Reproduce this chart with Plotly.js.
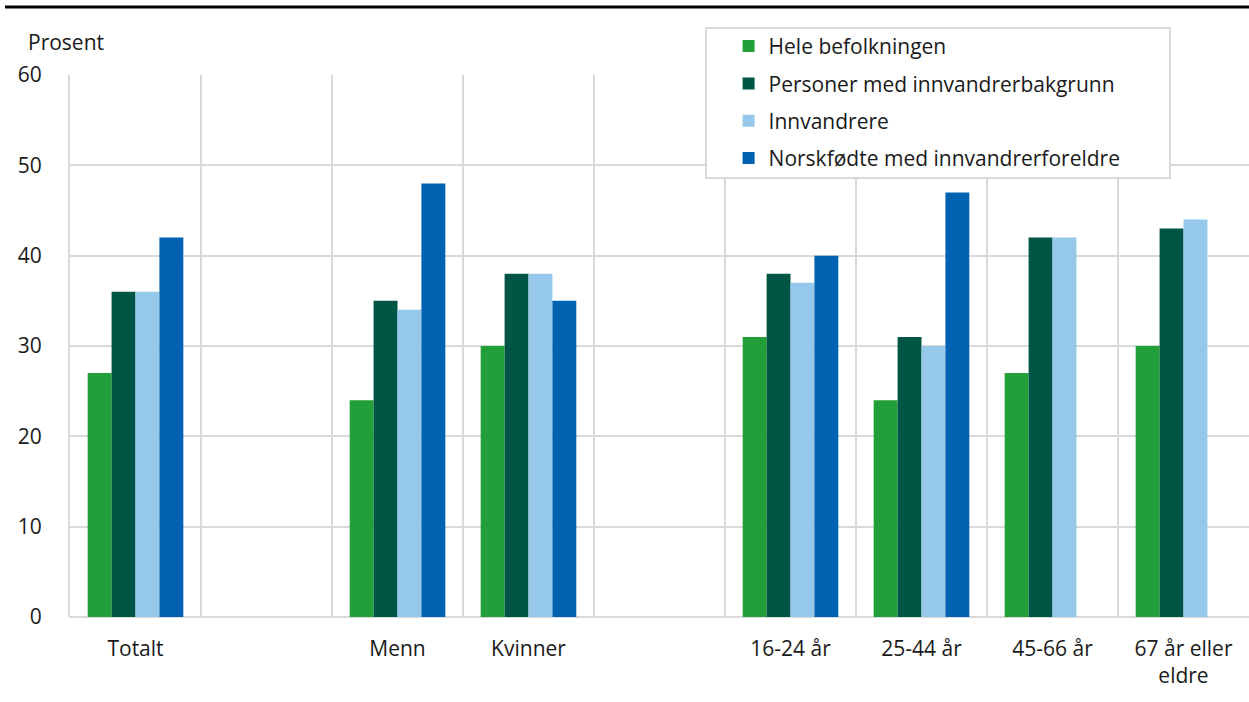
<!DOCTYPE html>
<html>
<head>
<meta charset="utf-8">
<script src="https://cdn.plot.ly/plotly-3.0.1.min.js"></script>
<style>html,body{margin:0;padding:0;background:#fff;}#chart{width:1249px;height:702px;}</style>
</head>
<body>
<div id="chart"></div>
<script>
const categories = ["Totalt", " ", "Menn", "Kvinner", "  ", "16-24 år", "25-44 år", "45-66 år", "67 år eller<br>eldre"];
const seriesNames = ["Hele befolkningen", "Personer med innvandrerbakgrunn", "Innvandrere", "Norskfødte med innvandrerforeldre"];
const heleBefolkningen = [27, null, 24, 30, null, 31, 24, 27, 30];
const innvandrerbakgrunn = [36, null, 35, 38, null, 38, 31, 42, 43];
const innvandrere = [36, null, 34, 38, null, 37, 30, 42, 44];
const norskfodte = [42, null, 48, 35, null, 40, 47, null, null];
const yTicks = [0, 10, 20, 30, 40, 50, 60];

const colors = ["#21a039", "#005544", "#96c8ec", "#0062b0"];
const values = [heleBefolkningen, innvandrerbakgrunn, innvandrere, norskfodte];
const font = "Open Sans, sans-serif";
const fs = 21;

const traces = values.map((v, i) => ({
  type: "bar",
  name: seriesNames[i],
  x: categories,
  y: v,
  marker: {color: colors[i], line: {width: 0}},
  legendgroup: "g" + i,
  hoverinfo: "y"
}));

const layout = {
  width: 1249, height: 702,
  margin: {l: 70, r: 0, t: 75, b: 85},
  paper_bgcolor: "#fff", plot_bgcolor: "#fff",
  font: {family: font, size: fs, color: "#1a1a1a"},
  barmode: "group", bargap: 0.27, bargroupgap: 0,
  showlegend: true,
  legend: {
    x: 0.5586, y: 1.0905, xanchor: "left", yanchor: "top",
    bgcolor: "rgba(0,0,0,0)", borderwidth: 0,
    traceorder: "grouped", tracegroupgap: 7,
    font: {family: font, size: fs, color: "#1a1a1a"}
  },
  xaxis: {
    type: "category", categoryorder: "array", categoryarray: categories,
    tickson: "boundaries", showgrid: true, gridcolor: "#d9d9d9", gridwidth: 2,
    ticks: "", showline: false, zeroline: false, ticklabelstandoff: 17,
    tickfont: {family: font, size: fs, color: "#1a1a1a"}
  },
  yaxis: {
    range: [0, 60], tickvals: yTicks, showgrid: true, gridcolor: "#d9d9d9", gridwidth: 2,
    zeroline: true, zerolinecolor: "#d9d9d9", zerolinewidth: 2,
    showline: true, linecolor: "#d9d9d9", linewidth: 2, ticks: "", ticklabelstandoff: 22,
    tickfont: {family: font, size: fs, color: "#1a1a1a"}
  },
  shapes: [
    {type: "line", xref: "paper", yref: "paper", x0: -0.0551, x1: 1, y0: 1.1255, y1: 1.1255,
     line: {color: "#000", width: 3}},
    {type: "rect", xref: "paper", yref: "paper", x0: 0.5394, x1: 0.933, y0: 0.81, y1: 1.0867,
     fillcolor: "#fff", line: {color: "#d9d9d9", width: 2}, layer: "above"}
  ],
  annotations: [
    {text: "Prosent", xref: "paper", yref: "paper", x: -0.0373, y: 1.06, xanchor: "left", yanchor: "middle",
     showarrow: false, font: {family: font, size: fs, color: "#1a1a1a"}}
  ]
};

Plotly.newPlot("chart", traces, layout, {displayModeBar: false, staticPlot: true});
</script>
</body>
</html>
